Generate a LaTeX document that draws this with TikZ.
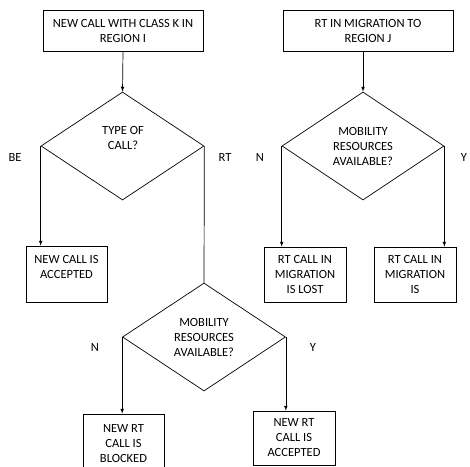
\documentclass[tikz,border=0pt]{standalone}
\usepackage{fontspec}
\setmainfont{Carlito}
\usetikzlibrary{shapes.geometric}
\begin{document}
\begin{tikzpicture}[x=1pt, y=-1pt, line width=.7pt, >=latex,%
        box/.style={draw, rectangle, inner sep=0pt, align=center, font=\fontsize{12.5}{15}\selectfont},
        dec/.style={draw, diamond, inner sep=0pt, align=center, minimum width=163pt, minimum height=108pt, font=\fontsize{12.5}{15}\selectfont},
        txt/.style={inner sep=0pt, align=center, font=\fontsize{12.5}{15}\selectfont}]
        \useasboundingbox (0,0) rectangle (470,466);
        % new call, left branch
        \node[box, minimum width=160pt, minimum height=41pt] (newcall) at (123,30.5) {NEW CALL WITH CLASS K IN\\REGION I};
        \node[dec] (type) at (122.5,146) {};
        \node[txt] (typetxt) at (123,138) {TYPE OF\\CALL?};
        \node[box, minimum width=81pt, minimum height=56pt] (beacc) at (66.5,274) {};
        \node[txt] (beacctxt) at (66.5,266.5) {NEW CALL IS\\ACCEPTED};
        \node[dec] (mobnew) at (204,337) {MOBILITY\\RESOURCES\\AVAILABLE?};
        \node[box, minimum width=81pt, minimum height=60pt] (blocked) at (123.5,444) {NEW RT\\CALL IS\\BLOCKED};
        \node[box, minimum width=82pt, minimum height=54pt] (rtacc) at (294,438) {NEW RT\\CALL IS\\ACCEPTED};
        \node[txt] (be) at (15,157) {BE};
        \node[txt] (rt) at (225,157) {RT};
        \node[txt] (nnew) at (95,347) {N};
        \node[txt] (ynew) at (313,347) {Y};
        % migration, right branch
        \node[box, minimum width=170pt, minimum height=41pt] (migr) at (368,30.5) {RT IN MIGRATION TO\\REGION J};
        \node[dec, minimum width=162pt] (mobmig) at (363,146) {MOBILITY\\RESOURCES\\AVAILABLE?};
        \node[box, minimum width=82pt, minimum height=55pt] (lost) at (305,274.5) {RT CALL IN\\MIGRATION\\IS LOST};
        \node[box, minimum width=82pt, minimum height=55pt] (kept) at (415,274.5) {RT CALL IN\\MIGRATION\\IS};
        \node[txt] (nmig) at (260,157) {N};
        \node[txt] (ymig) at (464,157) {Y};
        % connectors
        \draw[->] (newcall.south) -- (type.north);
        \draw[->] (type.west) -- (type.west |- beacc.north);
        \draw (type.east) -- (mobnew.north);
        \draw[->] (mobnew.west) -- (mobnew.west |- blocked.north);
        \draw[->] (mobnew.east) -- (mobnew.east |- rtacc.north);
        \draw[->] (migr.south -| mobmig.north) -- (mobmig.north);
        \draw[->] (mobmig.west) -- (mobmig.west |- lost.north);
        \draw[->] (mobmig.east) -- (mobmig.east |- kept.north);
    \end{tikzpicture}
\end{document}
